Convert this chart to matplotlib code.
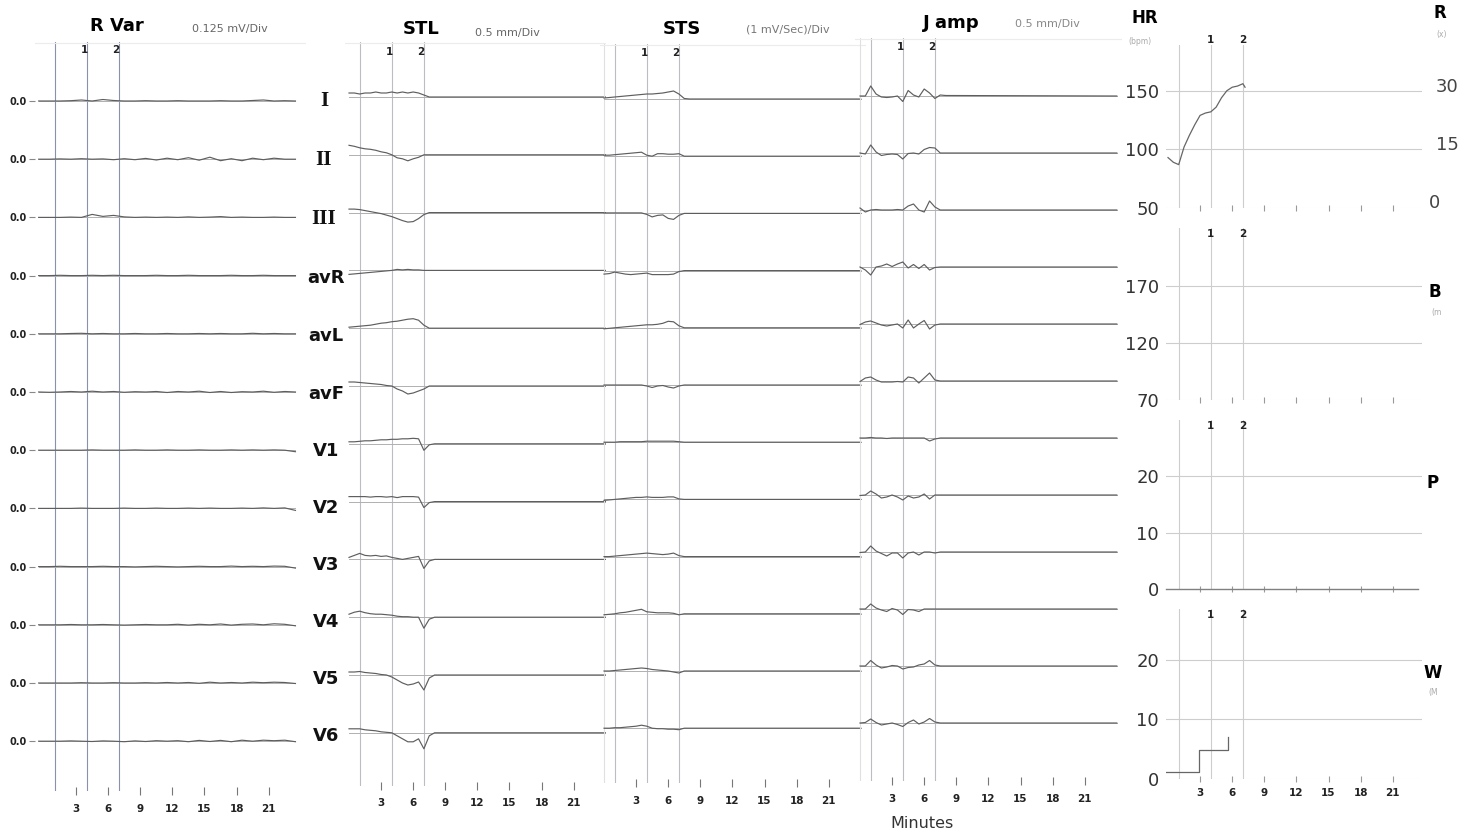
# Exercise ECG trend report: ST trends per lead plus HR / workload trends.
import matplotlib
matplotlib.use("Agg")
import matplotlib.pyplot as plt

W, H = 1463, 834
PX_PER_MIN = 10.7

LEADS = ["I", "II", "III", "avR", "avL", "avF", "V1", "V2", "V3", "V4", "V5", "V6"]
TICK_MIN = [3, 6, 9, 12, 15, 18, 21]
EVENT_MIN = [1, 4, 7]        # exercise start, marker 1, marker 2
MARKER_LABELS = ["1", "2"]

# R Var trend, one sample per minute (deflection, display units)
RVAR_T = [-0.5, 0.5, 1.5, 2.5, 3.5, 4.5, 5.5, 6.5, 7.5, 8.5, 9.5, 10.5, 11.5,
          12.5, 13.5, 14.5, 15.5, 16.5, 17.5, 18.5, 19.5, 20.5, 21.5, 22.5, 23.5]
RVAR = [
    [0, 0, 0, 0.3, 1, 0, 1.5, 0.5, 0, 0, 0.3, 0, 0, 0.3, 0, 0, 0, 0.3, 0, 0, 0.5, 1, 0, 0.3, 0],
    [0, 0, 0.3, 0, 0.5, 0, 0.3, -0.5, 0.5, -0.5, 0.8, -0.8, 1, -0.5, 1.5, -1, 2, -1.5, 0.5, -1.5, 1, -0.5, 1, 0, 0],
    [0, 0, 0, 0.3, 0, 3, 1, 2, 0.5, 0, 0.3, 0, 0.3, 0, 0.5, 0, 0.3, 0.8, 0, 0.3, 0, 0, 0.3, 0, 0],
    [0, 0, 0.3, 0, 0, 0.3, 0, 0.3, 0, 0, 0, 0.3, 0, 0, 0.3, 0, 0, 0, 0.3, 0, 0, 0.3, 0, 0, 0],
    [0, 0, 0, 0.3, 0.5, 0, 0.3, 0, 0, 0.3, 0, 0, 0.3, 0, 0, 0.3, 0, 0.3, 0, 0, 0.5, 0, 0.3, 0, 0],
    [0, -0.3, 0, 0.5, 0, 0.8, 0, 0.5, -0.3, 0.3, 0, 0.5, -0.5, 0.5, 0, 0.8, -0.5, 0.5, -0.5, 0.3, 0, 0.8, -0.3, 0.5, 0],
    [0, 0, 0, 0, 0, 0.3, 0, 0, 0, 0.3, 0, 0, 0.3, 0, 0, 0.3, 0, 0, 0.3, 0, 0.3, 0, 0.3, 0, -1.5],
    [0, 0, 0, 0, 0.3, 0, 0, 0, 0.3, 0, 0, 0.3, 0, 0, 0.3, 0, 0.3, 0, 0, 0.3, 0, 0.5, 0, 0.5, -2],
    [0, 0, 0.3, 0, 0, 0, 0.3, 0, 0, -0.3, 0, 0.3, 0, -0.3, 0, 0.3, 0, 0, 0.5, 0, 0.3, 0, 0.5, 0.3, -1.5],
    [0, 0, 0, 0.3, 0, 0, 0.3, 0, -0.3, 0, 0.3, 0, 0, 0.5, -0.3, 0.5, 0, 0.8, -0.3, 0.5, 0.8, 0, 1, 0.5, -1],
    [0, 0, 0, 0, 0.3, 0, 0, 0.3, 0, 0, 0.3, 0, 0.5, 0, 0.5, -0.3, 0.8, 0, 0.5, 0, 0.8, 0.3, 0.8, 0.5, -0.5],
    [0, 0, 0, 0.3, 0, -0.3, 0.3, 0, -0.5, 0.3, -0.3, 0.5, 0, 0.5, -0.5, 0.8, -0.3, 0.8, -0.5, 1, 0, 1, 0.5, 1, -0.5],
]

# ST trends: half-minute samples through exercise, then flat to the end
ST_T = [0, 0.5, 1, 1.5, 2, 2.5, 3, 3.5, 4, 4.5, 5, 5.5, 6, 6.5, 7, 7.5, 8, 24]
STL = [
    [4, 4, 3, 4, 4, 5, 4, 4, 5, 4, 5, 4, 5, 4, 2, 0, 0, 0],
    [9.5, 8.5, 7, 6, 5.5, 4.5, 3, 2, 0, -3, -4, -6, -4, -2.5, 0, 0, 0, 0],
    [3.5, 3.5, 3, 2, 1, 0, -1, -2.5, -4, -6, -8, -9.5, -9, -6, -2, 0, 0, 0],
    [-4, -3.5, -3, -2.5, -2, -1.5, -1, -0.5, 0, 1, 0.5, 1, 0.5, 0.5, 0, 0, 0, 0],
    [1, 1.5, 2, 2.5, 3, 4, 5, 5.5, 6.5, 7, 8, 9, 9.5, 8, 3, 0, 0, 0],
    [4, 4, 3.5, 3, 2.5, 2, 1.5, 0.5, 0, -3, -5, -8, -7, -5, -3, 0, 0, 0],
    [2, 2, 2.5, 3, 3, 3.5, 4, 4, 4.5, 4.5, 5, 5, 5.5, 5, -6.5, -1, 0, 0],
    [5, 5, 5, 5, 4.5, 5, 5, 4.5, 5, 4, 5, 5, 5, 4.5, -6, -1, 0, 0],
    [2, 4, 6, 4, 3.5, 4, 3, 3.5, 2, 1, 0, 1, 2, 3, -9, -1.5, 0, 0],
    [3, 5, 6, 4.5, 3.5, 3, 3, 2.5, 2, 1, 0.5, 0.5, 0, 0, -11, -2, 0, 0],
    [3, 3, 3.5, 2.5, 2, 1.5, 0.5, 0, -2, -5, -8, -10, -9, -7, -15, -3, 0, 0],
    [4, 4, 4, 3, 2.5, 2, 1, 0.5, 0, -3, -6, -9, -9, -6, -16, -3, 0, 0],
]
STS = [
    [1, 1.5, 2, 2.5, 3, 3.5, 4, 4.5, 5, 5, 5.5, 6, 7, 8, 5, 0.5, 0, 0],
    [1, 1, 1.5, 2, 2.5, 3, 3.5, 4, 1, 0, 2.5, 2.5, 2, 2, 2.5, 0, 0, 0],
    [0.5, 0.5, 0.5, 0.5, 0.5, 0.5, 0.5, 0.5, -1, -3.5, -2, -1.5, -5, -6, -2, 0, 0, 0],
    [-3.5, -3, -1.5, -2.5, -3.5, -4, -3.5, -3, -2.5, -4, -4, -4, -4, -3.5, -1, 0, 0, 0],
    [-1, -0.5, 0, 0.5, 1, 1.5, 2, 2.5, 3, 3, 3.5, 4.5, 6.5, 6, 2, 0, 0, 0],
    [0, 0, 0, 0, 0, 0, 0, 0, -1, -2.5, -1, -0.5, -2, -3, -1, 0, 0, 0],
    [0, 0, 0, 0.5, 0.5, 0.5, 0.5, 0.5, 1, 1, 1, 1, 1, 1, 0.5, 0, 0, 0],
    [-1, -0.5, 0, 0.5, 1, 1.5, 2, 2, 2.5, 2, 2, 2, 2.5, 2.5, 0.5, 0, 0, 0],
    [0, 0, 0.5, 1, 1.5, 2, 2.5, 3, 3.5, 3, 2.5, 2, 2.5, 3.5, 1, 0, 0, 0],
    [-1, -0.5, 0, 1, 1.5, 2.5, 3.5, 4.5, 2, 1.5, 1, 1, 1, 0.5, -1, 0, 0, 0],
    [0, 0, 0.5, 1, 1.5, 2, 2.5, 3, 2.5, 1.5, 1, 0.5, 0, -1, -2, 0, 0, 0],
    [0, 0, 0.5, 0.5, 1, 1.5, 2, 3, 2, 0, -0.5, -0.5, -1, -1, -1.5, 0, 0, 0],
]
JAMP = [
    [0, 0, 10, 2, -1, -1.5, -1, 0, -5.5, 5.5, 1, -1, 7, 3, -2.5, 1, 0.5, 0],
    [0, -1, 8, 1, -2.5, -1.5, -1, -1.5, -6, -0.5, 0, -1, 3.5, 5.5, 5, 0, 0, 0],
    [2, -2, 0, 0.5, 0, 0, 0, 0.5, 0, 4, 6, 0, -2, 9, 3, 0, 0, 0],
    [0, -3, -8, 0, 1, 3, 0.5, 3, 5, -1, 2.5, -1.5, 2.5, -3, -0.5, 0, 0, 0],
    [-0.5, 2, 3, 1, -1, -2, -1, 0, -4, 4, -4, 0, 3.5, -5, -1, 0, 0, 0],
    [-0.5, 3, 4, 1, -1, -1, -1, -0.5, -1, 4, 3, -2, 3, 8, 1, 0, 0, 0],
    [0, 0, 0.5, 0, 0, -0.5, 0, 0, 0, 0, 0, 0, 0, -3, -1, 0, 0, 0],
    [-0.5, 0, 4, 1, -3, -2, 0, -2, -5, -1, -3, -2, 1, -4, 0, 0, 0, 0],
    [-0.5, 0, 6, 1, -1.5, -4, -1, -1, -6, -1, 0, -3, 0, 0, -1, 0, 0, 0],
    [0, 0, 5, 1, -1, -2.5, 0.5, -1, -5.5, -0.5, -1, -2.5, 0, 0, 0, 0, 0, 0],
    [0, 0, 5.5, 1, -2, -1, 0.5, 0, -3, -1.5, -1, 1, 2, 5.5, 1, 0, 0, 0],
    [0, 0.5, 4, 0.5, -2, -1, 0, -1.5, -3.5, 0.5, 3, -1, 1, 4.5, 1, 0, 0, 0],
]

# right-hand trends
HR_T = [0.0, 0.5, 1.0, 1.5, 2.0, 2.5, 3.0, 3.5, 4.0, 4.5, 5.0, 5.5, 6.0, 6.5, 7.0, 7.2]
HR_BPM = [93, 89, 87, 102, 112, 121, 129, 131, 132, 136, 144, 150, 153, 154, 156, 153]
P_T = [-0.2, 23.4]
P_VAL = [0, 0]
W_T = [-0.2, 2.9, 5.6]
W_VAL = [1.2, 4.9, 7.0]

TRACE = "#5e5e5e"
BASE = "#b0b0b0"
VLINE = "#bcbcc4"
GRID = "#cdcdcd"

fig = plt.figure(figsize=(W / 100, H / 100), dpi=100)
fig.patch.set_facecolor("white")


def ftext(x, y, s, **kw):
    fig.text(x / W, 1 - y / H, s, **kw)


def px_axes(x0, y0, x1, y1):
    ax = fig.add_axes([x0 / W, 1 - y1 / H, (x1 - x0) / W, (y1 - y0) / H])
    ax.set_facecolor("none")
    for s in ax.spines.values():
        s.set_visible(False)
    return ax


def lead_panel(box, t0, first_row, row_gap, times, rows, label_y,
               vcolor=VLINE, zero_labels=False, border=False):
    x0, y0, x1, y1 = box
    ax = px_axes(x0, y0, x1, y1)
    ax.set_xlim((x0 - t0) / PX_PER_MIN, (x1 - t0) / PX_PER_MIN)
    ax.set_ylim(y1, y0)
    bases = [first_row + i * row_gap for i in range(len(rows))]
    for base, vals in zip(bases, rows):
        ax.plot([times[0], times[-1]], [base, base], color=BASE, lw=0.7)
        ax.plot(times, [base - v for v in vals], color=TRACE, lw=0.85)
    for t in EVENT_MIN:
        ax.axvline(t, color=vcolor, lw=0.8, zorder=0)
    if border:
        ax.axvline(0, color="#e0e0e0", lw=0.8, zorder=0)
    ax.axhline(y0 + 1, color="#ececec", lw=0.8, zorder=0)
    for t, s in zip(EVENT_MIN[1:], MARKER_LABELS):
        ax.text(t - 0.25, label_y, s, ha="center", va="center",
                fontsize=7.5, weight="bold", color="#222")
    ax.set_xticks(TICK_MIN)
    ax.set_xticklabels([str(m) for m in TICK_MIN], fontsize=7.5,
                       weight="bold", color="#222")
    ax.tick_params(axis="x", direction="inout", length=6, width=0.8,
                   color="#777", pad=6)
    if zero_labels:
        ax.set_yticks(bases)
        ax.set_yticklabels(["0.0"] * len(bases), fontsize=7,
                           weight="bold", color="#222")
        ax.tick_params(axis="y", length=4, width=0.8, color="#888", pad=2)
    else:
        ax.set_yticks([])
    return ax


lead_panel((35, 42, 306, 791), 44, 101, 58.2, RVAR_T, RVAR, 50,
           vcolor="#8a92ab", zero_labels=True)
lead_panel((345, 42, 606, 786), 349, 97, 57.8, ST_T, STL, 52)
lead_panel((600, 44, 866, 783), 604, 99, 57.2, ST_T, STS, 53, border=True)
lead_panel((855, 38, 1122, 781), 860, 96, 57.0, ST_T, JAMP, 47, border=True)


def trend_panel(box, ylim, yticks, grid, label_y, xlabels=False):
    x0, y0, x1, y1 = box
    t0 = 1168
    ax = px_axes(x0, y0, x1, y1)
    ax.set_xlim((x0 - t0) / PX_PER_MIN, (x1 - t0) / PX_PER_MIN)
    ax.set_ylim(*ylim)
    for g in grid:
        ax.axhline(g, color=GRID, lw=0.8, zorder=0)
    for t in EVENT_MIN:
        ax.axvline(t, color=GRID, lw=0.8, zorder=0)
    ax.axhline(ylim[0], color="#e2e2e2", lw=0.8, ls=":", zorder=0)
    ax.set_yticks(yticks)
    ax.set_yticklabels([str(v) for v in yticks], fontsize=13, color="#333")
    ax.tick_params(axis="y", length=0, pad=5)
    ax.set_xticks(TICK_MIN)
    ax.tick_params(axis="x", direction="inout", length=5, width=0.8,
                   color="#999", pad=4)
    if xlabels:
        ax.set_xticklabels([str(m) for m in TICK_MIN], fontsize=7.5,
                           weight="bold", color="#222")
    else:
        ax.set_xticklabels([])
    yl = ylim[0] + (ylim[1] - ylim[0]) * (1 - (label_y - y0) / (y1 - y0))
    for t, s in zip(EVENT_MIN[1:], MARKER_LABELS):
        ax.text(t, yl, s, ha="center", va="center", fontsize=7.5,
                weight="bold", color="#222")
    return ax


ax_hr = trend_panel((1166, 45, 1422, 208), (50, 189), [50, 100, 150],
                    [100, 150], 40)
ax_hr.plot(HR_T, HR_BPM, color="#666", lw=0.9)

trend_panel((1166, 228, 1422, 400), (70, 221), [70, 120, 170], [120, 170], 234)

ax_p = trend_panel((1166, 420, 1422, 589), (0, 30), [0, 10, 20], [10, 20], 426)
ax_p.plot(P_T, P_VAL, color="#808080", lw=1.0, clip_on=False)

ax_w = trend_panel((1166, 609, 1422, 779), (0, 28.5), [0, 10, 20], [10, 20],
                   615, xlabels=True)
ax_w.step(W_T, W_VAL, where="post", color="#666", lw=0.9)

# titles
ftext(117, 26, "R Var", ha="center", va="center", fontsize=13, weight="bold")
ftext(230, 29, "0.125 mV/Div", ha="center", va="center", fontsize=8, color="#666")
ftext(421, 29, "STL", ha="center", va="center", fontsize=13, weight="bold")
ftext(507, 33, "0.5 mm/Div", ha="center", va="center", fontsize=8, color="#666")
ftext(682, 29, "STS", ha="center", va="center", fontsize=13, weight="bold")
ftext(788, 30, "(1 mV/Sec)/Div", ha="center", va="center", fontsize=8, color="#777")
ftext(951, 23, "J amp", ha="center", va="center", fontsize=13, weight="bold")
ftext(1047, 24, "0.5 mm/Div", ha="center", va="center", fontsize=8, color="#888")
ftext(1145, 18, "HR", ha="center", va="center", fontsize=12, weight="bold")
ftext(1140, 41, "(bpm)", ha="center", va="center", fontsize=5.5, color="#aaa")

# partly visible next column
ftext(1440, 13, "R", ha="center", va="center", fontsize=12, weight="bold")
ftext(1442, 35, "(x)", ha="center", va="center", fontsize=5.5, color="#aaa")
ftext(1436, 87, "30", ha="left", va="center", fontsize=13, color="#444")
ftext(1436, 145, "15", ha="left", va="center", fontsize=13, color="#444")
ftext(1435, 203, "0", ha="center", va="center", fontsize=13, color="#444")
ftext(1435, 292, "B", ha="center", va="center", fontsize=12, weight="bold")
ftext(1437, 313, "(m", ha="center", va="center", fontsize=5.5, color="#aaa")
ftext(1433, 483, "P", ha="center", va="center", fontsize=12, weight="bold")
ftext(1433, 673, "W", ha="center", va="center", fontsize=12, weight="bold")
ftext(1433, 692, "(M", ha="center", va="center", fontsize=5.5, color="#aaa")

# lead names between the first two panels
lead_y = [101, 160, 219, 278, 336, 394, 451, 508, 565, 622, 679, 736]
for name, y in zip(LEADS, lead_y):
    if name in ("I", "II", "III"):
        ftext(324, y, name, ha="center", va="center", fontsize=15,
              weight="bold", family="Liberation Serif", color="#111")
    else:
        ftext(326, y, name, ha="center", va="center", fontsize=13,
              weight="bold", color="#111")

ftext(922, 823, "Minutes", ha="center", va="center", fontsize=11.5, color="#333")

fig.savefig("out.png", dpi=100, facecolor="white")
